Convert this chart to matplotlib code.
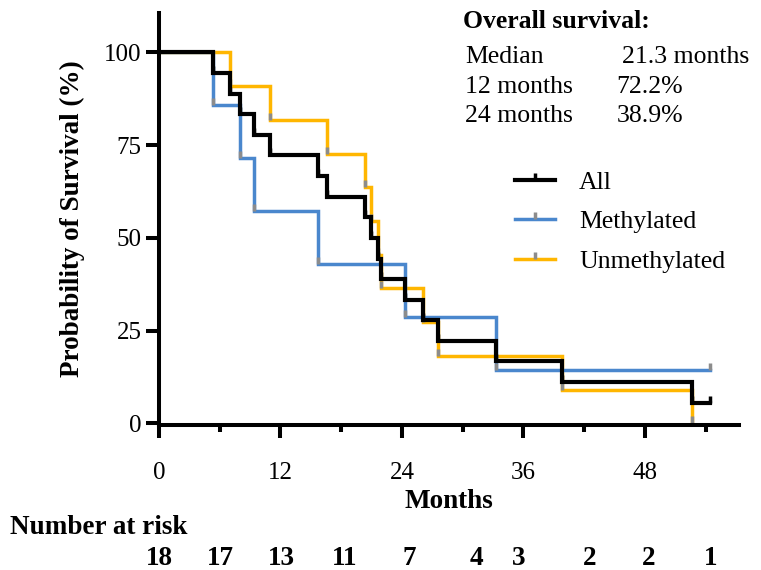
import matplotlib
matplotlib.use("Agg")
import matplotlib.pyplot as plt
import matplotlib.transforms as mtransforms
from matplotlib.ticker import MultipleLocator

plt.rcParams['font.family'] = ['Liberation Serif', 'DejaVu Serif']

# Kaplan-Meier 曲线 (months, survival %)
all_t = [0, 5.3, 7.0, 8.0, 9.4, 11.0, 15.7, 16.6, 20.4, 20.9, 21.6, 21.9, 24.3, 26.1, 27.6, 33.3, 39.8, 52.7, 54.4]
all_s = [100, 94.4, 88.9, 83.3, 77.8, 72.2, 66.7, 61.1, 55.6, 50.0, 44.4, 38.9, 33.3, 27.8, 22.2, 16.7, 11.1, 5.6, 5.6]

meth_t = [0, 5.3, 8.0, 9.4, 15.7, 24.3, 33.3, 54.4]
meth_s = [100, 85.7, 71.4, 57.1, 42.9, 28.6, 14.3, 14.3]

unmeth_t = [0, 7.0, 11.0, 16.6, 20.4, 20.9, 21.6, 21.9, 26.1, 27.6, 39.8, 52.7]
unmeth_s = [100, 90.9, 81.8, 72.7, 63.6, 54.5, 45.5, 36.4, 27.3, 18.2, 9.1, 0]

# number at risk
risk_counts = [18, 17, 13, 11, 7, 4, 3, 2, 2, 1]
risk_label_pos = [0, 6.1, 12.1, 18.3, 24.7, 31.4, 35.5, 42.5, 48.4, 54.5]

summary_rows = [("Median", "21.3 months"), ("12 months", "72.2%"), ("24 months", "38.9%")]

W, H = 761, 570
fig = plt.figure(figsize=(W / 100, H / 100), dpi=100)
ax = fig.add_axes([159 / W, 1 - 425 / H, 580 / W, 412 / H])

series = [
    (unmeth_t, unmeth_s, "#FFB600", "#8C8C8C", 2.5, "Unmethylated"),
    (meth_t, meth_s, "#4A87CD", "#8C8C8C", 2.5, "Methylated"),
    (all_t, all_s, "black", "black", 3.0, "All"),
]
handles = {}
for t, s, c, mc, lw, lab in series:
    ln, = ax.plot(t, s, drawstyle="steps-post", color=c, lw=lw,
                  marker=2, markevery=slice(1, None), ms=5, mew=2.5,
                  mec=mc, mfc=mc, label=lab, solid_joinstyle="miter")
    handles[lab] = ln

ax.set_xlim(0, 57.3)
ax.set_ylim(-0.46, 110.6)
ax.xaxis.set_major_locator(MultipleLocator(12))
ax.xaxis.set_minor_locator(MultipleLocator(6))
ax.set_yticks([0, 25, 50, 75, 100])

for sp in ["top", "right"]:
    ax.spines[sp].set_visible(False)
for sp in ["left", "bottom"]:
    ax.spines[sp].set_linewidth(2.9)
ax.tick_params(axis="both", which="major", length=9.5, width=2.9, labelsize=18, direction="out")
ax.tick_params(axis="x", which="minor", length=5, width=2.9)
ax.tick_params(axis="x", which="major", pad=17)
ax.tick_params(axis="y", which="major", pad=3)

ax.set_xlabel("Months", fontsize=19.5, fontweight="bold", labelpad=4)
ax.set_ylabel("Probability of Survival (%)", fontsize=19.5, fontweight="bold", labelpad=14)

leg = ax.legend([handles["All"], handles["Methylated"], handles["Unmethylated"]],
                ["All", "Methylated", "Unmethylated"],
                loc="upper left", bbox_to_anchor=(515 / W, 1 - 171 / H),
                bbox_transform=fig.transFigure, frameon=False, fontsize=18.5,
                numpoints=1, handlelength=1.56, handletextpad=0.93,
                labelspacing=0.64, borderpad=0, borderaxespad=0)

# summary text
fig.text(463 / W, 1 - 28 / H, "Overall survival:", fontsize=18.5, fontweight="bold", va="baseline")
base_y = [63, 92.7, 121.7]
second_x = [621.7, 616.7, 616.7]
for (a, b), by, sx in zip(summary_rows, base_y, second_x):
    fig.text(465 / W, 1 - by / H, a, fontsize=18.5, va="baseline")
    fig.text(sx / W, 1 - by / H, b, fontsize=18.5, va="baseline")

# number at risk
fig.text(10 / W, 1 - 534 / H, "Number at risk", fontsize=19.5, fontweight="bold", va="baseline")
trans = mtransforms.blended_transform_factory(ax.transData, fig.transFigure)
for n, xp in zip(risk_counts, risk_label_pos):
    ax.text(xp, 1 - 565 / H, str(n), transform=trans, fontsize=19.5, fontweight="bold",
            ha="center", va="baseline", clip_on=False)

fig.savefig("out.png", dpi=100)
